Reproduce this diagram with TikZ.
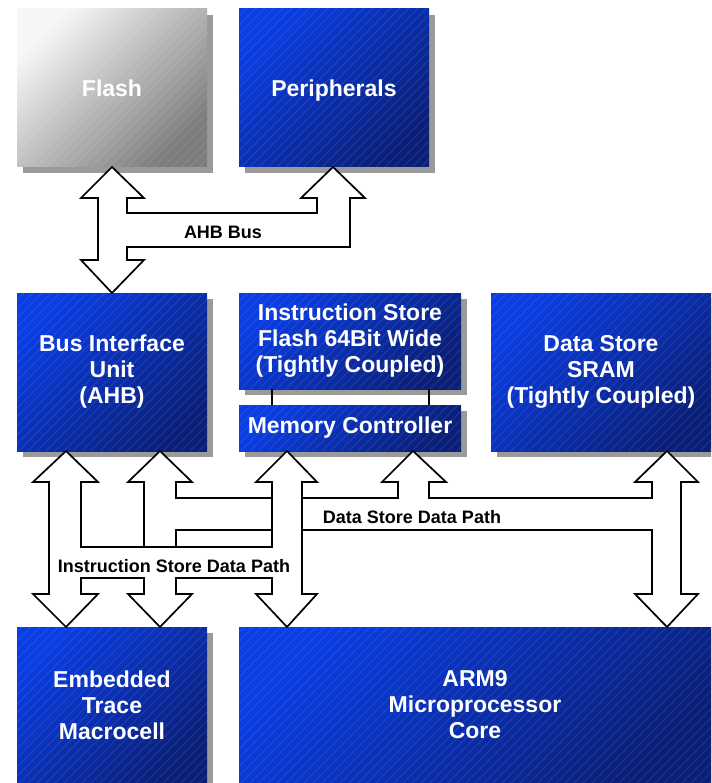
\documentclass[tikz,border=0pt]{standalone}
\usepackage{fontspec}
\setmainfont{Liberation Sans}
\usetikzlibrary{shadows}
\definecolor{bluetl}{HTML}{0A3DE2}
\definecolor{bluebr}{HTML}{0A1F78}
\definecolor{graytl}{HTML}{F6F6F6}
\definecolor{graybr}{HTML}{7C7C7C}
\definecolor{shadowgray}{HTML}{9A9A9A}
\begin{document}
\begin{tikzpicture}[x=1pt,y=-1pt,
  box/.style={inner sep=0pt, outer sep=0pt, align=center, text=white,
    font=\fontsize{23}{26}\selectfont\bfseries,
    general shadow={fill=shadowgray, shadow xshift=6pt, shadow yshift=-6pt},
    path picture={
      \foreach \i in {-700,-691,...,500}
        \draw[white, draw opacity=0.1, line width=1pt]
          ([xshift=\i pt]path picture bounding box.south west) -- ++(800,-800);}},
  bluebox/.style={box, top color=bluetl, bottom color=bluebr, shading angle=45},
  graybox/.style={box, top color=graytl, bottom color=graybr, shading angle=45},
  bus/.style={draw=black, fill=white, line width=1.7pt, miter limit=10},
  link/.style={draw=black, line width=1.7pt},
  buslabel/.style={font=\fontsize{18}{20}\selectfont\bfseries, inner sep=0pt}]
\useasboundingbox (0,0) rectangle (711,783);
\clip (0,0) rectangle (711,783);

% boxes
\node[graybox, minimum width=190pt, minimum height=158pt] (flash) at (112,88) {Flash};
\node[bluebox, text depth=0pt, minimum width=190pt, minimum height=158pt] (periph) at (334,88) {Peripherals};
\node[bluebox, minimum width=190pt, minimum height=158pt] (biu) at (112,372) {Bus Interface\\Unit\\(AHB)};
\node[bluebox, minimum width=222pt, minimum height=96pt] (istore) at (350,341) {Instruction Store\\Flash 64Bit Wide\\(Tightly Coupled)};
\node[bluebox, minimum width=222pt, minimum height=46pt] (memctl) at (350,428) {Memory Controller};
\node[bluebox, minimum width=220pt, minimum height=158pt] (dstore) at (601,372) {Data Store\\SRAM\\(Tightly Coupled)};
\node[bluebox, minimum width=190pt, minimum height=156pt] (etm) at (112,705) {Embedded\\Trace\\Macrocell};
\node[bluebox, minimum width=472pt, minimum height=156pt] (arm) at (475,705) {ARM9\\Microprocessor\\Core};

% links between instruction store and memory controller
\draw[link] ([xshift=33pt]istore.south west) -- ([xshift=33pt]memctl.north west);
\draw[link] ([xshift=-32pt]istore.south east) -- ([xshift=-32pt]memctl.north east);

% AHB bus
\draw[bus] (112,167) -- (144,198) -- (127,198) -- (127,213) -- (317,213) -- (317,198)
  -- (301,198) -- (333,167) -- (365,198) -- (350,198) -- (350,247) -- (127,247)
  -- (127,260) -- (144,260) -- (112,293) -- (81,260) -- (98,260) -- (98,198)
  -- (81,198) -- cycle;
\node[buslabel] (ahb) at (223,232) {AHB Bus};

% Data store data path
\draw[bus] (144,547) -- (144,482) -- (128,482) -- (160,451) -- (192,482) -- (176,482)
  -- (176,498) -- (398,498) -- (398,482) -- (382,482) -- (413,451) -- (446,482)
  -- (429,482) -- (429,498) -- (652,498) -- (652,482) -- (635,482) -- (667,451)
  -- (698,482) -- (681,482) -- (681,594) -- (698,594) -- (667,627) -- (635,594)
  -- (652,594) -- (652,530) -- (176,530) -- (176,547) -- cycle;

% Instruction store data path
\draw[bus] (81,547) -- (81,482) -- (98,482) -- (66,451) -- (33,482) -- (49,482)
  -- (49,594) -- (33,594) -- (66,627) -- (98,594) -- (81,594) -- (81,578)
  -- (144,578) -- (144,594) -- (128,594) -- (160,627) -- (192,594) -- (176,594)
  -- (176,578) -- (272,578) -- (272,594) -- (256,594) -- (287,627) -- (317,594)
  -- (302,594) -- (302,482) -- (317,482) -- (287,451) -- (256,482) -- (272,482)
  -- (272,547) -- cycle;

\node[buslabel] (dpath) at (412,517) {Data Store Data Path};
\node[buslabel] (ipath) at (174,566) {Instruction Store Data Path};
\end{tikzpicture}
\end{document}
